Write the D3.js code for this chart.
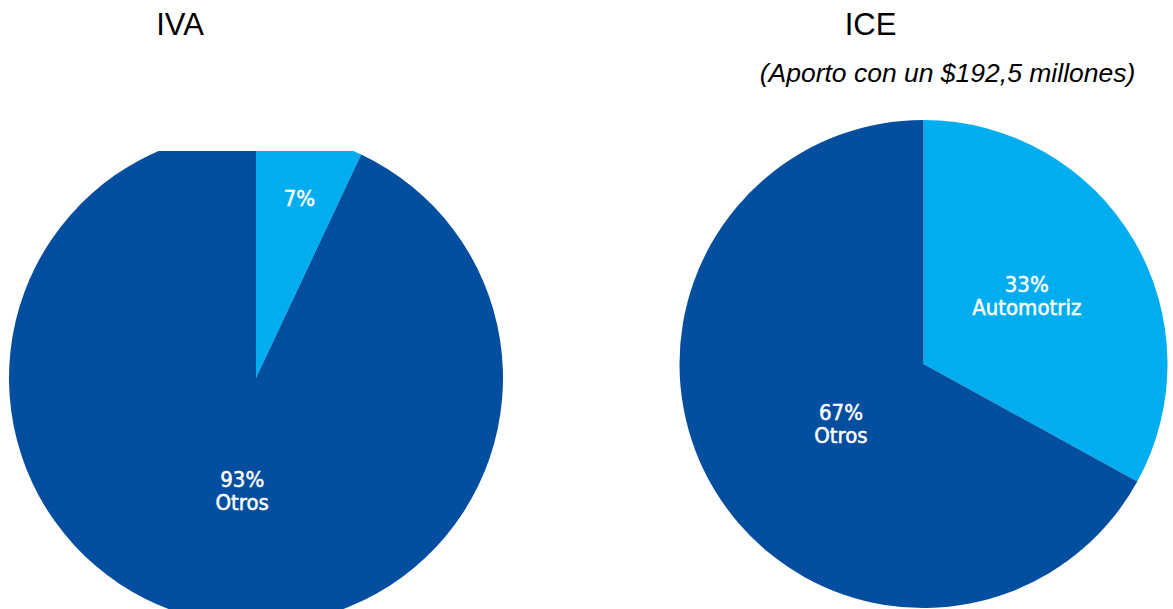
<!DOCTYPE html>
<html>
<head>
<meta charset="utf-8">
<script src="https://cdn.jsdelivr.net/npm/d3@7"></script>
<style>
  html, body { margin: 0; padding: 0; background: #fff; }
  svg { display: block; }
</style>
</head>
<body>
<svg id="chart" width="1173" height="609"></svg>
<script>
// data
const sliceNames = ["Automotriz", "Otros"];
const ivaValues = [7, 93];
const iceValues = [33, 67];
const ivaShowName = [false, true];
const iceShowName = [true, true];
const titles = ["IVA", "ICE"];
const iceNote = "(Aporto con un $192,5 millones)";

const width = 1173;
const height = 609;
const colors = ["#00AEEF", "#044EA0"];
const labelFont = "'Liberation Sans Narrow', 'DejaVu Sans Condensed', sans-serif";

const svg = d3.select("#chart");

// left pie is cut off at the top in the original
svg.append("defs").append("clipPath").attr("id", "clipIva")
    .append("rect").attr("x", 0).attr("y", 151).attr("width", 600).attr("height", height);

const pie = d3.pie().sort(null).value(d => d);

function drawPie(values, showName, cx, cy, r, labelFactors, shifts, clip) {
    const g = svg.append("g")
        .attr("clip-path", clip ? `url(#${clip})` : null)
        .append("g")
        .attr("transform", `translate(${cx},${cy})`);

    const arc = d3.arc().innerRadius(0).outerRadius(r);
    const arcs = pie(values);

    g.selectAll("path")
        .data(arcs)
        .enter()
        .append("path")
        .attr("d", arc)
        .attr("fill", (d, i) => colors[i]);

    arcs.forEach((d, i) => {
        const lr = r * labelFactors[i];
        const c = d3.arc().innerRadius(lr).outerRadius(lr).centroid(d);
        const x = c[0] + shifts[i][0];
        const y = c[1] + shifts[i][1];
        const lines = [d.data + "%"];
        if (showName[i]) lines.push(sliceNames[i]);
        const base = lines.length === 1 ? y + 9 : y - 1.5;
        lines.forEach((s, k) => {
            g.append("text")
                .attr("x", x)
                .attr("y", base + k * 23)
                .attr("text-anchor", "middle")
                .attr("fill", "#fff")
                .attr("stroke", "#fff")
                .attr("stroke-width", 0.5)
                .style("font-family", labelFont)
                .style("font-size", "22px")
                .text(s);
        });
    });
}

drawPie(ivaValues, ivaShowName, 256, 378, 247, [0.75, 0.46], [[3, 0], [11, 0]], "clipIva");
drawPie(iceValues, iceShowName, 923.5, 364, 244, [0.52, 0.393], [[-6, -6], [0, 9]], null);

// titles
svg.selectAll("text.title")
    .data(titles)
    .enter()
    .append("text")
    .attr("class", "title")
    .attr("x", (d, i) => i === 0 ? 180 : 870.5)
    .attr("y", 35)
    .attr("text-anchor", "middle")
    .style("font-family", "'Liberation Sans', Arial, sans-serif")
    .style("font-size", "31px")
    .attr("fill", "#000")
    .text(d => d);

svg.append("text")
    .attr("x", 947.5)
    .attr("y", 82)
    .attr("text-anchor", "middle")
    .style("font-family", "'Liberation Sans', Arial, sans-serif")
    .style("font-style", "italic")
    .style("font-size", "26.5px")
    .attr("fill", "#000")
    .text(iceNote);
</script>
</body>
</html>
